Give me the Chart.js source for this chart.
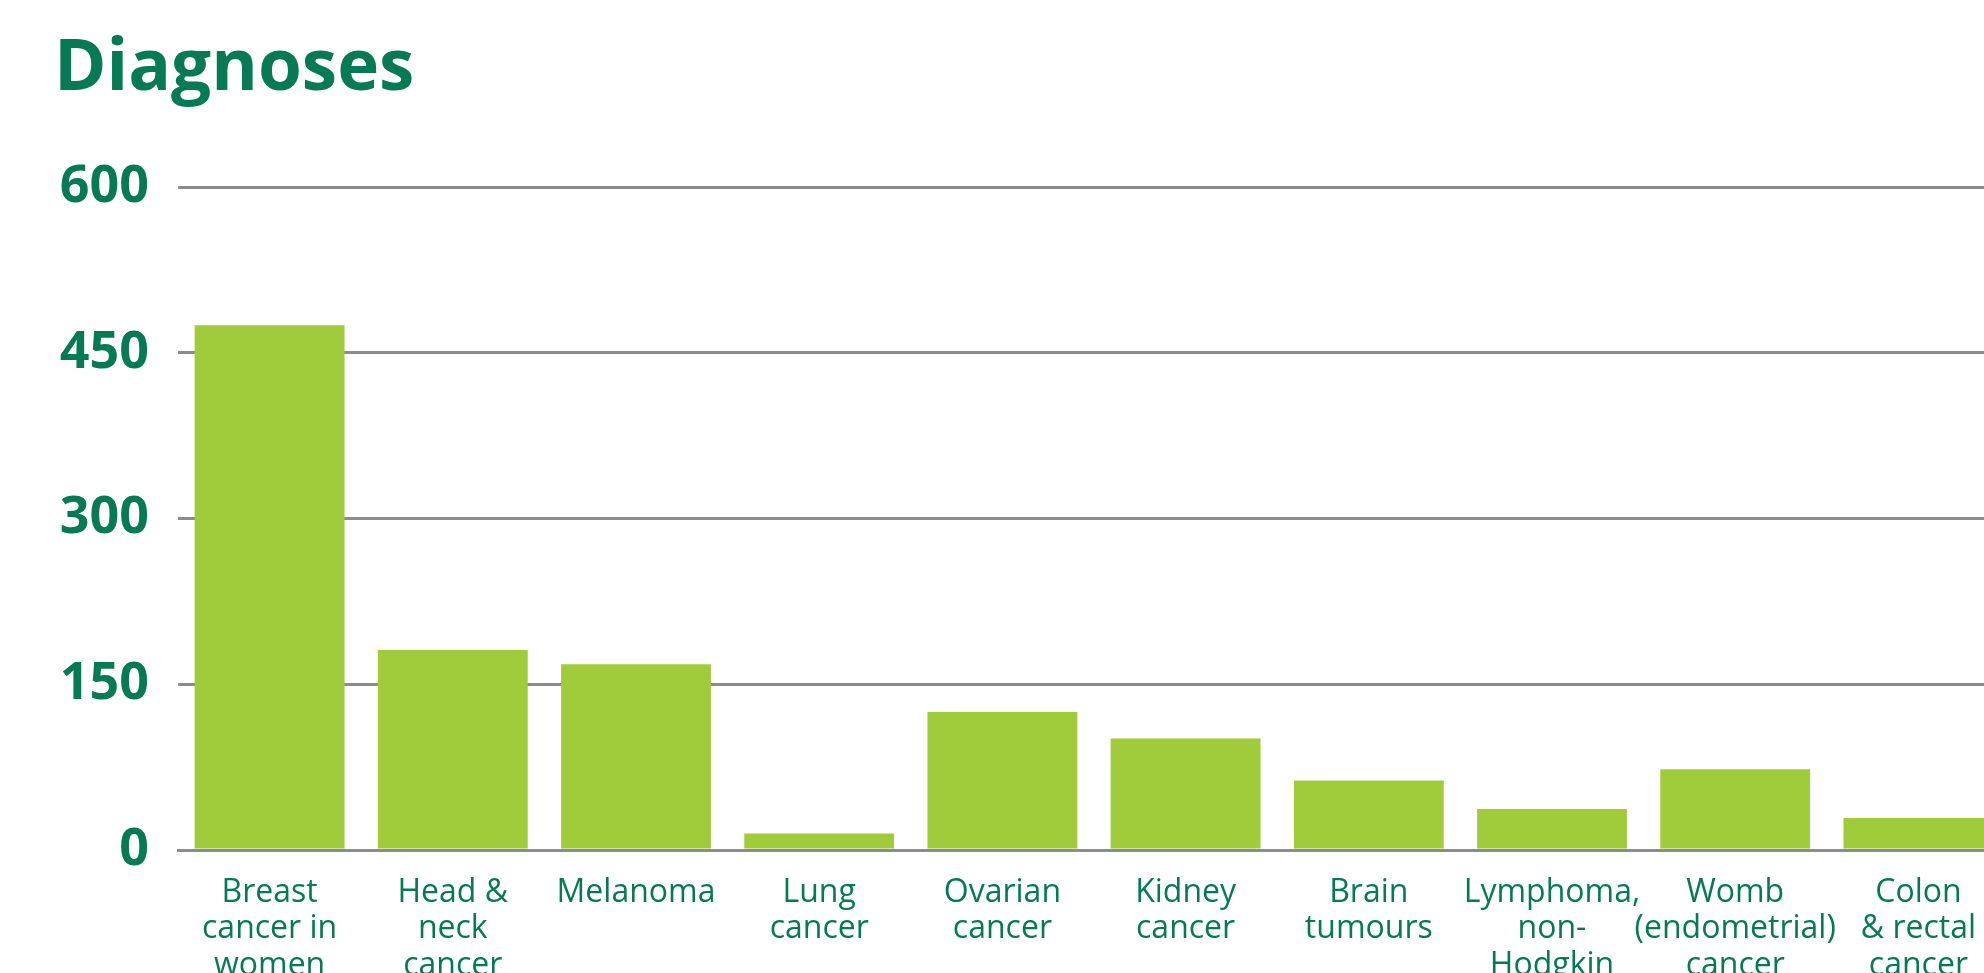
<!DOCTYPE html>
<html>
<head>
<meta charset="utf-8">
<script src="https://cdn.jsdelivr.net/npm/chart.js@4/dist/chart.umd.min.js"></script>
<style>
  html, body { margin: 0; padding: 0; background: #fff; overflow: hidden; }
  #wrap { position: relative; width: 1984px; height: 973px; overflow: hidden; }
  #title {
    position: absolute; left: 54px; top: 28px;
    font-family: "Open Sans", sans-serif; font-weight: 700;
    font-size: 71px; line-height: 70px; color: #067a55;
  }
  #chart { position: absolute; left: 0; top: 0; }
</style>
</head>
<body>
<div id="wrap">
  <div id="title">Diagnoses</div>
  <canvas id="chart" width="2010" height="973"></canvas>
</div>
<script>
const categories = [
  ["Breast", "cancer in", "women"],
  ["Head &", "neck", "cancer"],
  ["Melanoma"],
  ["Lung", "cancer"],
  ["Ovarian", "cancer"],
  ["Kidney", "cancer"],
  ["Brain", "tumours"],
  ["Lymphoma,", "non-", "Hodgkin"],
  ["Womb", "(endometrial)", "cancer"],
  ["Colon", "& rectal", "cancer"],
]
const diagnoses = [475, 181, 168, 15, 125, 101, 63, 37, 73, 29]
const yTicks = [0, 150, 300, 450, 600]

const green = "#067a55"

// 차트 그리기
const ctx = document.querySelector("#chart")
new Chart(ctx, {
  type: "bar",
  data: {
    labels: categories,
    datasets: [
      {
        data: diagnoses,
        backgroundColor: "#a0cb3a",
        borderWidth: 0,
        categoryPercentage: 1,
        barPercentage: 0.818,
      },
    ],
  },
  options: {
    responsive: false,
    animation: false,
    layout: { padding: { top: 187, left: 0, right: 0, bottom: 0 } },
    plugins: {
      legend: { display: false },
      tooltip: { enabled: false },
    },
    scales: {
      x: {
        z: 1,
        grid: { display: false, drawTicks: false },
        border: { display: true, color: "#8c8c8c", width: 3 },
        ticks: {
          color: green,
          padding: 24,
          maxRotation: 0,
          autoSkip: false,
          font: { family: "Open Sans", size: 32, lineHeight: 1.15 },
        },
        afterFit: (scale) => { scale.height = 123 },
      },
      y: {
        min: 0,
        max: 600,
        afterBuildTicks: (scale) => { scale.ticks = yTicks.map((v) => ({ value: v })) },
        grid: { color: "#8c8c8c", lineWidth: 3, drawTicks: false },
        border: { display: false },
        ticks: {
          color: green,
          padding: 29,
          font: { family: "Open Sans", size: 52, weight: "bold" },
        },
        afterFit: (scale) => { scale.width = 178 },
      },
    },
  },
})
</script>
</body>
</html>
